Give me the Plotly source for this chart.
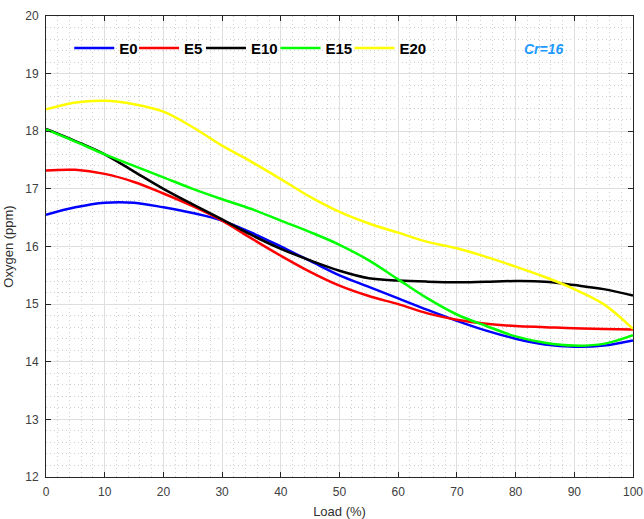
import plotly.graph_objects as go

load = [0, 5, 10, 15, 20, 25, 30, 35, 40, 45, 50, 55, 60, 65, 70, 75, 80, 85, 90, 95, 100]

e0 = [16.55, 16.68, 16.76, 16.76, 16.68, 16.58, 16.45, 16.24, 16.00, 15.75, 15.50, 15.30, 15.10,
      14.90, 14.71, 14.54, 14.40, 14.30, 14.26, 14.28, 14.37]
e5 = [17.32, 17.33, 17.26, 17.12, 16.92, 16.70, 16.45, 16.14, 15.84, 15.56, 15.32, 15.14, 15.00,
      14.84, 14.73, 14.66, 14.62, 14.60, 14.58, 14.57, 14.56]
e10 = [18.04, 17.83, 17.60, 17.30, 17.00, 16.73, 16.47, 16.20, 15.96, 15.76, 15.58, 15.45, 15.41,
       15.39, 15.38, 15.39, 15.40, 15.39, 15.33, 15.26, 15.15]
e15 = [18.03, 17.82, 17.60, 17.40, 17.20, 17.00, 16.82, 16.65, 16.45, 16.25, 16.03, 15.76, 15.43,
       15.10, 14.82, 14.62, 14.44, 14.33, 14.28, 14.31, 14.46]
e20 = [18.38, 18.50, 18.53, 18.47, 18.34, 18.07, 17.75, 17.47, 17.17, 16.86, 16.60, 16.40, 16.24,
       16.08, 15.97, 15.82, 15.65, 15.47, 15.26, 15.00, 14.57]

series_names = ["E0", "E5", "E10", "E15", "E20"]
series_values = [e0, e5, e10, e15, e20]
series_colors = ["#0000FF", "#FF0000", "#000000", "#00FF00", "#FFFF00"]

x_ticks = list(range(0, 101, 10))
y_ticks = list(range(12, 21, 1))

# one legend per entry so entries sit where the original places them
legend_ids = ["legend", "legend2", "legend3", "legend4", "legend5"]
legend_x = [0.0396, 0.150, 0.264, 0.391, 0.517]

fig = go.Figure()
for name, vals, col, lid in zip(series_names, series_values, series_colors, legend_ids):
    fig.add_trace(go.Scatter(
        x=load, y=vals, name=name, mode="lines", legend=lid,
        line=dict(color=col, width=2.5, shape="spline", smoothing=1.0),
    ))

axis_common = dict(
    showline=True, linecolor="#262626", linewidth=1, mirror="ticks",
    ticks="inside", ticklen=5, tickcolor="#262626", tickwidth=1,
    showgrid=True, gridcolor="#dedede", gridwidth=1,
    zeroline=False, automargin=False,
    tickfont=dict(family="Liberation Sans, Arial", size=12, color="#404040"),
)

fig.update_xaxes(
    range=[0, 100], tickvals=x_ticks, ticklabelstandoff=4,
    minor=dict(dtick=2, showgrid=True, griddash="1px,3px", gridcolor="#cfcfcf", gridwidth=1),
    title=dict(text="Load (%)", standoff=12,
               font=dict(family="Liberation Sans, Arial", size=13, color="#303030")),
    **axis_common,
)
fig.update_yaxes(
    range=[12, 20], tickvals=y_ticks, ticklabelstandoff=4,
    minor=dict(dtick=0.2, showgrid=True, griddash="1px,3px", gridcolor="#cfcfcf", gridwidth=1),
    title=dict(text="Oxygen (ppm)", standoff=8,
               font=dict(family="Liberation Sans, Arial", size=13, color="#303030")),
    **axis_common,
)

# white legend box background
fig.add_shape(type="rect", xref="paper", yref="paper",
              x0=0.024, x1=0.777, y0=0.878, y1=0.976,
              fillcolor="white", line=dict(width=0), layer="between")

fig.add_annotation(
    text="<b><i>Cr=16</i></b>", xref="paper", yref="paper",
    x=0.848, y=0.928, showarrow=False, xanchor="center", yanchor="middle",
    font=dict(family="Liberation Sans, Arial", size=14, color="#1E9BFF"),
)

legend_style = dict(
    orientation="h", y=0.93, xanchor="left", yanchor="middle",
    bgcolor="rgba(255,255,255,0)", borderwidth=0,
    font=dict(family="Liberation Sans, Arial", size=15, color="black", weight="bold"),
    itemwidth=40,
)
layout_legends = {lid: dict(x=lx, **legend_style) for lid, lx in zip(legend_ids, legend_x)}

fig.update_layout(
    width=644, height=519,
    margin=dict(l=46, r=11, t=16, b=42),
    paper_bgcolor="white", plot_bgcolor="white",
    showlegend=True,
    **layout_legends,
)

fig.write_html("out.html")
